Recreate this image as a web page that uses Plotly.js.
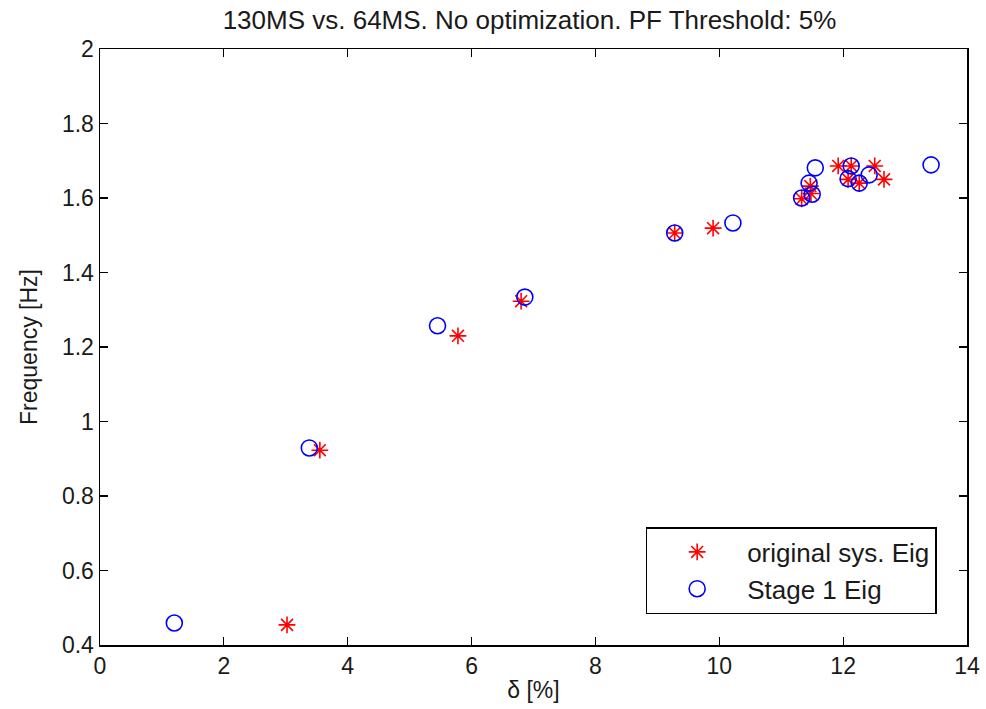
<!DOCTYPE html>
<html>
<head>
<meta charset="utf-8">
<script src="https://cdn.plot.ly/plotly-3.0.1.min.js"></script>
<style>html,body{margin:0;padding:0;background:#fff;}#chart{width:986px;height:709px;}</style>
</head>
<body>
<div id="chart"></div>
<script>
const origX = [3.02, 3.55, 5.78, 6.80, 9.28, 9.90, 11.33, 11.48, 11.47, 11.92, 12.13, 12.08, 12.26, 12.51, 12.66];
const origY = [0.454, 0.923, 1.230, 1.323, 1.506, 1.519, 1.598, 1.612, 1.632, 1.686, 1.686, 1.650, 1.640, 1.686, 1.650];
const stageX = [1.20, 3.38, 5.45, 6.86, 9.28, 10.22, 11.33, 11.50, 11.45, 11.55, 12.13, 12.08, 12.26, 12.42, 13.42];
const stageY = [0.459, 0.929, 1.257, 1.334, 1.506, 1.533, 1.600, 1.610, 1.640, 1.681, 1.686, 1.652, 1.640, 1.662, 1.689];
const xTicks = [0, 2, 4, 6, 8, 10, 12, 14];
const yTicks = [0.4, 0.6, 0.8, 1, 1.2, 1.4, 1.6, 1.8, 2];
const yTickText = ['0.4', '0.6', '0.8', '1', '1.2', '1.4', '1.6', '1.8', '2'];

const fam = 'Liberation Sans, Arial, sans-serif';
const font = {family: fam, size: 23, color: '#1a1a1a'};

const traces = [
  {x: origX, y: origY, type: 'scatter', mode: 'markers', name: 'original sys. Eig',
   marker: {symbol: 'asterisk-open', size: 14, color: 'red', line: {color: 'red', width: 1.6}}},
  {x: stageX, y: stageY, type: 'scatter', mode: 'markers', name: 'Stage 1 Eig',
   marker: {symbol: 'circle-open', size: 16, color: 'blue', line: {color: 'blue', width: 1.6}}}
];

const axisCommon = {
  showline: true, linecolor: '#000', linewidth: 1.5, mirror: 'ticks',
  ticks: 'inside', ticklen: 8, tickcolor: '#000', tickwidth: 1.2,
  showgrid: false, zeroline: false, tickfont: font
};

const layout = {
  width: 986, height: 709,
  margin: {l: 100, r: 19, t: 49, b: 64},
  paper_bgcolor: '#fff', plot_bgcolor: '#fff',
  font: font,
  title: {text: '130MS vs. 64MS. No optimization. PF Threshold: 5%', x: 0.537, xanchor: 'center',
          y: 0.972, yanchor: 'middle', font: {family: fam, size: 26, color: '#1a1a1a'}},
  xaxis: Object.assign({}, axisCommon, {range: [0, 14], tickvals: xTicks,
          title: {text: 'δ [%]', font: font, standoff: 4}}),
  yaxis: Object.assign({}, axisCommon, {range: [0.4, 2], tickvals: yTicks, ticktext: yTickText,
          title: {text: 'Frequency [Hz]', font: font, standoff: 18}}),
  showlegend: true,
  legend: {x: 0.965, y: 0.052, xanchor: 'right', yanchor: 'bottom',
           bgcolor: '#fff', bordercolor: '#000', borderwidth: 1.5,
           font: {family: fam, size: 26, color: '#1a1a1a'},
           itemwidth: 90, tracegroupgap: 0}
};

Plotly.newPlot('chart', traces, layout, {displayModeBar: false, staticPlot: true});
</script>
</body>
</html>
